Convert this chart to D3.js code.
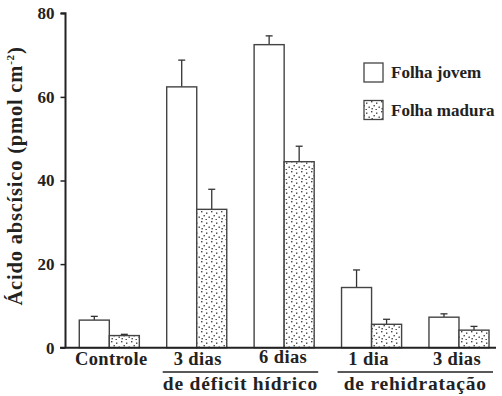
<!DOCTYPE html>
<html>
<head>
<meta charset="utf-8">
<script src="https://cdn.jsdelivr.net/npm/d3@7"></script>
<style>
  body { margin: 0; background: #fff; }
</style>
</head>
<body>
<svg id="chart" width="502" height="396"></svg>
<script>
// ABA content per treatment, young and mature leaves
const categories = ["Controle", "3 dias", "6 dias", "1 dia", "3 dias b"];
const tickLabels = ["Controle", "3 dias", "6 dias", "1 dia", "3 dias"];
const series = ["Folha jovem", "Folha madura"];
const jovem = [6.6, 62.4, 72.5, 14.4, 7.3];
const jovemErr = [0.9, 6.4, 2.1, 4.2, 0.8];
const madura = [2.9, 33.1, 44.5, 5.6, 4.2];
const maduraErr = [0.3, 4.8, 3.7, 1.2, 0.9];
const yTicks = [0, 20, 40, 60, 80];
const groups = [
  { label: "de déficit hídrico", from: 1, to: 2 },
  { label: "de rehidratação", from: 3, to: 4 }
];

const FONT = "'Liberation Serif', 'Times New Roman', serif";
const svg = d3.select("#chart").attr("font-family", FONT).attr("font-weight", "bold");
const x0 = 65.5, xEnd = 496;
const y = d3.scaleLinear().domain([0, 80]).range([347.7, 13.3]);
const x = d3.scaleBand().domain(categories).range([65.6, 502.7]).paddingInner(0.313).paddingOuter(0.1565);
const sub = d3.scaleBand().domain(series).range([0, x.bandwidth()]);

// dotted fill
const defs = svg.append("defs");
const pat = defs.append("pattern").attr("id", "dots").attr("patternUnits", "userSpaceOnUse")
  .attr("width", 10).attr("height", 10);
pat.append("rect").attr("width", 10).attr("height", 10).attr("fill", "#fff");
[[1, 1], [6, 2.5], [3.5, 5], [8.5, 6.5], [1.5, 8], [5.5, 9]].forEach(([cx, cy]) => {
  pat.append("rect").attr("x", cx).attr("y", cy).attr("width", 1.4).attr("height", 1.4).attr("fill", "#444");
});

// bars
const rows = categories.map((c, i) => [
  { c, s: series[0], v: jovem[i], e: jovemErr[i] },
  { c, s: series[1], v: madura[i], e: maduraErr[i] }
]).flat();

const g = svg.append("g");
rows.forEach(d => {
  const bx = x(d.c) + sub(d.s);
  const cx = bx + sub.bandwidth() / 2;
  g.append("line").attr("x1", cx).attr("x2", cx).attr("y1", y(d.v)).attr("y2", y(d.v + d.e))
    .attr("stroke", "#333").attr("stroke-width", 1.3);
  g.append("line").attr("x1", cx - 3.5).attr("x2", cx + 3.5).attr("y1", y(d.v + d.e)).attr("y2", y(d.v + d.e))
    .attr("stroke", "#333").attr("stroke-width", 1.3);
  g.append("rect").attr("x", bx).attr("y", y(d.v)).attr("width", sub.bandwidth()).attr("height", y(0) - y(d.v))
    .attr("fill", d.s === series[0] ? "#fff" : "url(#dots)")
    .attr("stroke", "#444").attr("stroke-width", 1.4);
});

// y axis
const yAxis = svg.append("g").attr("transform", `translate(${x0},0)`)
  .call(d3.axisLeft(y).tickValues(yTicks).tickSize(5).tickPadding(6))
  .attr("font-family", FONT);
yAxis.select(".domain").attr("stroke", "#222").attr("stroke-width", 2).attr("d", `M-5,${y(80)}H0V${y(0)}`);
yAxis.selectAll(".tick line").attr("stroke", "#222").attr("stroke-width", 1.5);
yAxis.selectAll(".tick text").attr("font-size", 17).attr("fill", "#222").attr("font-family", FONT);

// x axis baseline
svg.append("line").attr("x1", 60).attr("x2", xEnd).attr("y1", y(0)).attr("y2", y(0))
  .attr("stroke", "#222").attr("stroke-width", 2);

// category labels
svg.selectAll(".cat").data(categories).enter().append("text")
  .attr("x", (d, i) => x(d) + x.bandwidth() / 2 + [2, 1, -1, -3, -2][i])
  .attr("y", (d, i) => i === 2 ? 363 : 365)
  .attr("text-anchor", "middle").attr("font-size", 18.5).attr("letter-spacing", 0.4).attr("fill", "#222")
  .text((d, i) => tickLabels[i]);

// group brackets
groups.forEach(gr => {
  const a = x(categories[gr.from]) - 4, b = x(categories[gr.to]) + x.bandwidth() + 4;
  svg.append("line").attr("x1", a).attr("x2", b).attr("y1", 372).attr("y2", 372)
    .attr("stroke", "#222").attr("stroke-width", 1.5);
  svg.append("text").attr("x", (a + b) / 2).attr("y", 390).attr("text-anchor", "middle")
    .attr("font-size", 19.5).attr("letter-spacing", 0.8).attr("fill", "#222").text(gr.label);
});

// y axis title
svg.append("text").attr("transform", "translate(22,176) rotate(-90)").attr("text-anchor", "middle")
  .attr("font-size", 20.5).attr("letter-spacing", 0.8).attr("fill", "#222")
  .html('Ácido abscísico (pmol cm<tspan dy="-8" font-size="11">-2</tspan><tspan dy="8">)</tspan>');

// legend
const leg = svg.append("g");
series.forEach((s, i) => {
  const ly = 63 + i * 37.5;
  leg.append("rect").attr("x", 364).attr("y", ly).attr("width", 19).attr("height", 19)
    .attr("fill", i === 0 ? "#fff" : "url(#dots)").attr("stroke", "#444").attr("stroke-width", 1.3);
  leg.append("text").attr("x", 391).attr("y", ly + 15).attr("font-size", 17).attr("fill", "#222").text(s);
});
</script>
</body>
</html>
